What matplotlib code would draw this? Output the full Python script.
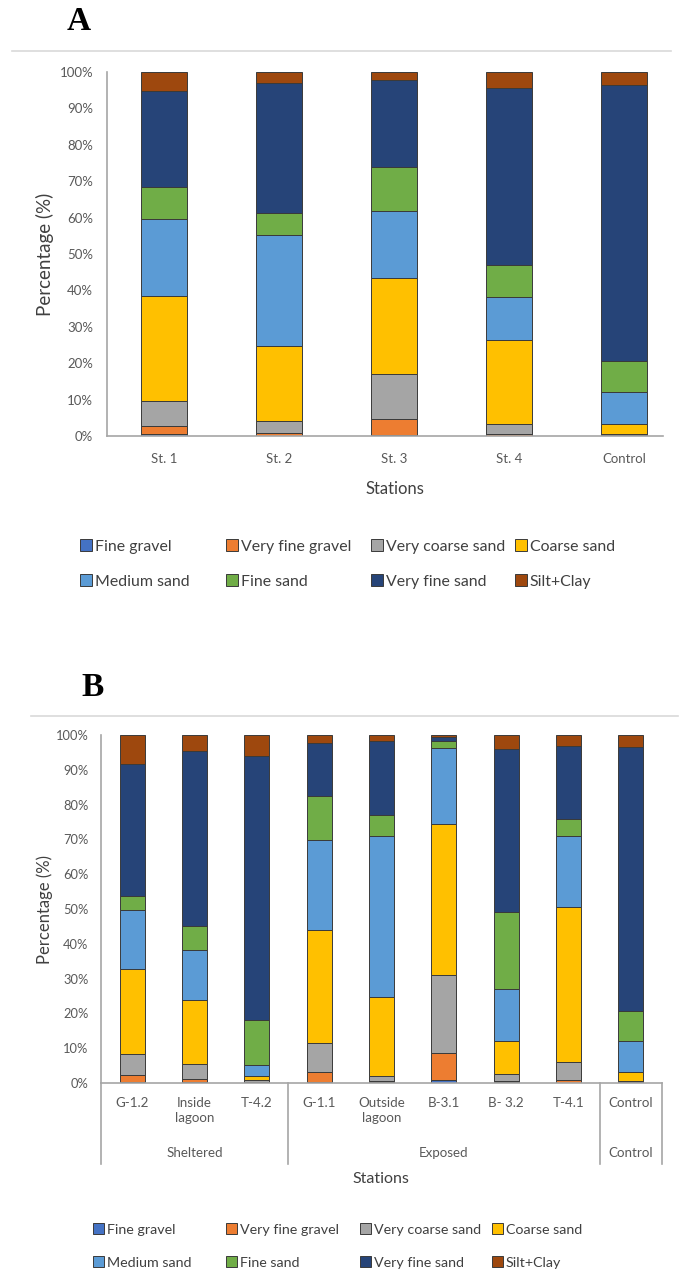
import numpy as np
import matplotlib
matplotlib.use("Agg")
import matplotlib.pyplot as plt
from matplotlib.lines import Line2D
from matplotlib.ticker import PercentFormatter
from matplotlib.transforms import blended_transform_factory

plt.rcParams["font.family"] = ["Lato", "DejaVu Sans"]

# ==========================================================
# Data: grain size fractions (%) per station
# ==========================================================

fractions = [
    "Fine gravel", "Very fine gravel", "Very coarse sand", "Coarse sand",
    "Medium sand", "Fine sand", "Very fine sand", "Silt+Clay",
]
colors = [
    "#4472C4", "#ED7D31", "#A5A5A5", "#FFC000",
    "#5B9BD5", "#70AD47", "#264478", "#9E480E",
]

# --- Panel A
stations_a = ["St. 1", "St. 2", "St. 3", "St. 4", "Control"]
a_fine_gravel = [0.5, 0.1, 0.4, 0.1, 0.1]
a_very_fine_gravel = [2.2, 0.8, 4.3, 0.5, 0.2]
a_very_coarse_sand = [7.0, 3.2, 12.3, 2.8, 0.3]
a_coarse_sand = [28.8, 20.7, 26.3, 22.9, 2.6]
a_medium_sand = [21.1, 30.3, 18.5, 11.9, 9.0]
a_fine_sand = [8.7, 6.3, 12.2, 8.8, 8.4]
a_very_fine_sand = [26.6, 35.6, 23.9, 48.6, 75.9]
a_silt_clay = [5.1, 3.0, 2.1, 4.4, 3.5]

# --- Panel B
stations_b = ["G-1.2", "Inside\nlagoon", "T-4.2", "G-1.1", "Outside\nlagoon",
              "B-3.1", "B- 3.2", "T-4.1", "Control"]
groups_b = ["Sheltered", "Exposed", "Control"]
group_sizes_b = [3, 5, 1]
b_fine_gravel = [0.3, 0.3, 0.1, 0.2, 0.2, 1.0, 0.2, 0.1, 0.1]
b_very_fine_gravel = [2.1, 0.8, 0.2, 3.0, 0.5, 7.6, 0.5, 0.9, 0.2]
b_very_coarse_sand = [5.9, 4.3, 0.7, 8.3, 1.3, 22.5, 2.0, 5.0, 0.3]
b_coarse_sand = [24.4, 18.5, 1.0, 32.5, 22.7, 43.3, 9.5, 44.5, 2.6]
b_medium_sand = [16.9, 14.4, 3.3, 25.7, 46.2, 21.8, 14.9, 20.4, 9.0]
b_fine_sand = [4.2, 6.7, 12.9, 12.9, 6.0, 2.0, 22.1, 5.0, 8.4]
b_very_fine_sand = [38.0, 50.4, 75.9, 15.0, 21.3, 1.3, 46.7, 20.9, 75.9]
b_silt_clay = [8.2, 4.6, 5.9, 2.4, 1.8, 0.5, 4.1, 3.2, 3.5]

series_a = [a_fine_gravel, a_very_fine_gravel, a_very_coarse_sand, a_coarse_sand,
            a_medium_sand, a_fine_sand, a_very_fine_sand, a_silt_clay]
series_b = [b_fine_gravel, b_very_fine_gravel, b_very_coarse_sand, b_coarse_sand,
            b_medium_sand, b_fine_sand, b_very_fine_sand, b_silt_clay]

# ==========================================================
# Figure layout (pixel helpers)
# ==========================================================

W, H = 683, 1271
fig = plt.figure(figsize=(W / 100, H / 100), dpi=100)


def fx(x):
    return x / W


def fy(y):
    return 1 - y / H


def box(left, top, right, bottom):
    return [fx(left), fy(bottom), (right - left) / W, (bottom - top) / H]


AXIS_GREY = "#A6A6A6"
TEXT_GREY = "#595959"


def stacked_bars(ax, series, labels):
    x = np.arange(len(labels))
    bottom = np.zeros(len(labels))
    handles = []
    for vals, color, name in zip(series, colors, fractions):
        h = ax.bar(x, vals, 0.4, bottom=bottom, color=color,
                   edgecolor="#3A3A3A", linewidth=0.7, label=name)
        bottom += np.array(vals)
        handles.append(h)
    return handles


def style_axes(ax, ysize):
    ax.set_ylim(0, 100)
    ax.set_yticks(range(0, 101, 10))
    ax.yaxis.set_major_formatter(PercentFormatter(xmax=100, decimals=0))
    for side in ["top", "right"]:
        ax.spines[side].set_visible(False)
    for side in ["left", "bottom"]:
        ax.spines[side].set_color(AXIS_GREY)
        ax.spines[side].set_linewidth(1.2)
    ax.tick_params(length=0, colors=TEXT_GREY, labelsize=ysize)


def column_legends(handles, xs, ycenter, size, spacing):
    # one legend per column so the columns keep an even pitch
    for col, x in enumerate(xs):
        hs = [handles[col], handles[col + 4]]
        fig.legend(hs, [fractions[col], fractions[col + 4]],
                   loc="center left", bbox_to_anchor=(fx(x), fy(ycenter)),
                   frameon=False, fontsize=size, borderpad=0,
                   handlelength=0.75, handleheight=0.75, handletextpad=0.2,
                   labelspacing=spacing, labelcolor="#404040")


# ==========================================================
# Panel A
# ==========================================================

fig.text(fx(79), fy(22), "A", family="Liberation Serif", weight="bold",
         size=24, ha="center", va="center")
fig.add_artist(Line2D([fx(12), fx(671)], [fy(51), fy(51)],
                      color="#D9D9D9", lw=1.2))

ax_a = fig.add_axes(box(107, 72, 663, 436))
handles_a = stacked_bars(ax_a, series_a, stations_a)
style_axes(ax_a, 9.5)
ax_a.set_xlim(-0.5, 4.335)
ax_a.set_xticks(range(len(stations_a)))
ax_a.set_xticklabels(stations_a)
ax_a.tick_params(axis="x", pad=12)
ax_a.tick_params(axis="y", pad=10)

fig.text(fx(45), fy(254), "Percentage (%)", rotation=90, size=13.5,
         color="#404040", ha="center", va="center")
fig.text(fx(395), fy(489), "Stations", size=12, color="#404040",
         ha="center", va="center")

column_legends(handles_a, [72, 218, 363, 507], 564, 11.4, 1.3)

# ==========================================================
# Panel B
# ==========================================================

fig.text(fx(93), fy(688), "B", family="Liberation Serif", weight="bold",
         size=24, ha="center", va="center")
fig.add_artist(Line2D([fx(31), fx(678)], [fy(716), fy(716)],
                      color="#D9D9D9", lw=1.2))

ax_b = fig.add_axes(box(101, 735, 662, 1083))
handles_b = stacked_bars(ax_b, series_b, stations_b)
style_axes(ax_b, 9.3)
ax_b.set_xlim(-0.5, len(stations_b) - 0.5)
ax_b.set_xticks(range(len(stations_b)))
ax_b.set_xticklabels(stations_b, linespacing=1.3, fontsize=9.6)
ax_b.tick_params(axis="x", pad=10)
ax_b.tick_params(axis="y", pad=9)

# group separators and group names under the category labels
trans = blended_transform_factory(ax_b.transData, ax_b.transAxes)
edges = np.concatenate([[0], np.cumsum(group_sizes_b)]) - 0.5
for e in edges:
    ax_b.plot([e, e], [0, -0.233], color=AXIS_GREY, lw=1.2,
              transform=trans, clip_on=False)
for name, lo, hi in zip(groups_b, edges[:-1], edges[1:]):
    ax_b.text((lo + hi) / 2, -0.201, name, transform=trans, size=9.6,
              color=TEXT_GREY, ha="center", va="center")

fig.text(fx(45), fy(909), "Percentage (%)", rotation=90, size=12,
         color="#404040", ha="center", va="center")
fig.text(fx(381), fy(1179), "Stations", size=11.5, color="#404040",
         ha="center", va="center")

column_legends(handles_b, [86, 219, 353, 485], 1246, 10.3, 1.45)

fig.savefig("out.png", dpi=100)
